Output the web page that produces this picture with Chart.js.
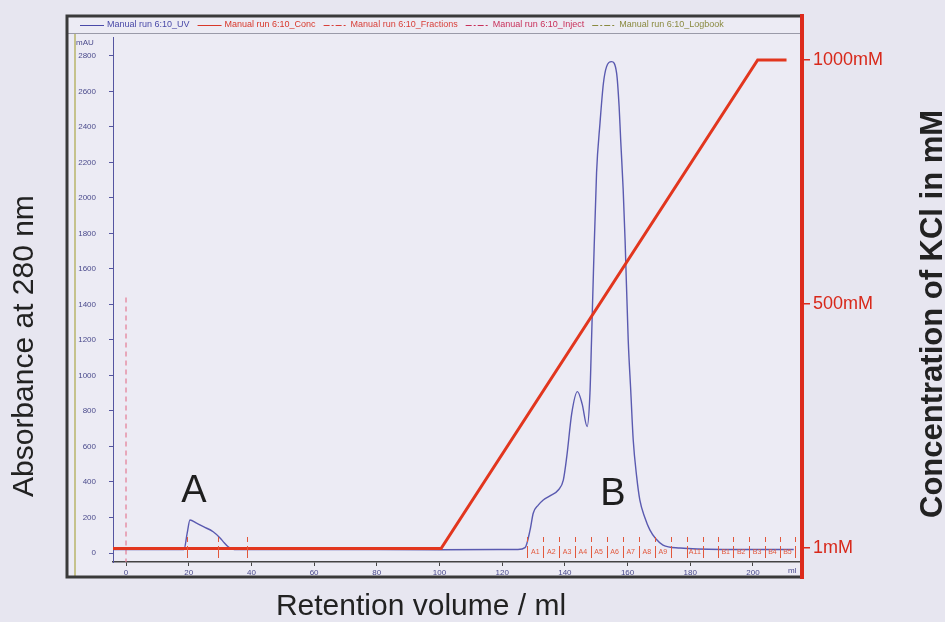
<!DOCTYPE html>
<html>
<head>
<meta charset="utf-8">
<script src="https://cdn.jsdelivr.net/npm/chart.js@4.4.0/dist/chart.umd.min.js"></script>
<style>
  html, body { margin: 0; padding: 0; background: #e7e6f0; }
  #wrap { width: 945px; height: 622px; position: relative; }
</style>
</head>
<body>
<div id="wrap"><canvas id="cromatograma"></canvas></div>
<script>
// Absorbância a 280 nm (mAU) por volume de retenção (ml)
const uvVolume = [-4.15, 18.5, 19.5, 20.4, 22.5, 24.7, 27.8, 30.0, 31.0, 32.6, 34.5, 60, 100, 125,
  127.3, 128.9, 129.9, 131.5, 133.1, 135.5, 137.9, 139.5, 140.6, 142.2, 144.0, 145.5, 147.1, 148.0,
  148.5, 149.1, 150.1, 151.2, 152.3, 153.3, 154.9, 156.5, 157.3, 157.8, 158.6, 159.2, 160.2, 161.0,
  161.8, 162.9, 163.9, 165.5, 167.1, 169, 171.3, 176.7, 190, 213];
const uvAbsorbancia = [20, 20, 110, 186, 168, 148, 120, 85, 64, 35, 20, 20, 18, 20,
  30, 130, 224, 270, 299, 325, 355, 411, 543, 788, 909, 840, 712, 901,
  1200, 1577, 2141, 2422, 2648, 2740, 2768, 2704, 2515, 2327, 2045, 1763, 1200, 918,
  637, 430, 299, 200, 130, 80, 45, 28, 20, 20];

// Gradiente de KCl (mM)
const kclVolume = [-4.15, 100.5, 201.5, 210.7];
const kclConcentracao = [0, 0, 1000, 1000];

// Marca de injeção
const injecaoVolume = [0, 0];
const injecaoAbsorbancia = [1440, -50];

// Frações coletadas
const fracoesLimites = [128, 133.1, 138.2, 143.2, 148.2, 153.3, 158.4, 163.6, 168.7, 173.8, 178.9, 184, 188.9, 193.7, 198.8, 203.8, 208.6, 213.4];
const fracoesNomes = ['A1', 'A2', 'A3', 'A4', 'A5', 'A6', 'A7', 'A8', 'A9', '', 'A11', '', 'B1', 'B2', 'B3', 'B4', 'B5'];
const fracoesPicoA = [19.5, 29.4, 38.5];

// Rótulos dos eixos
const ticksVolume = [0, 20, 40, 60, 80, 100, 120, 140, 160, 180, 200];
const ticksAbsorbancia = [0, 200, 400, 600, 800, 1000, 1200, 1400, 1600, 1800, 2000, 2200, 2400, 2600, 2800];
const ticksKcl = [1, 500, 1000];

const legendaItens = [
  { texto: 'Manual run 6:10_UV', cor: '#4a4aa8', traco: [] },
  { texto: 'Manual run 6:10_Conc', cor: '#d8382a', traco: [] },
  { texto: 'Manual run 6:10_Fractions', cor: '#d8403a', traco: [6, 2, 2, 2] },
  { texto: 'Manual run 6:10_Inject', cor: '#c8305a', traco: [6, 2, 2, 2] },
  { texto: 'Manual run 6:10_Logbook', cor: '#8a8a40', traco: [6, 2, 2, 2] }
];

const pares = (xs, ys) => xs.map((x, i) => ({ x: x, y: ys[i] }));

const fonte = '"Liberation Sans", Arial, sans-serif';

const molduraPlugin = {
  id: 'moldura',
  beforeDraw(chart) {
    const ctx = chart.ctx;
    ctx.save();
    ctx.fillStyle = '#e7e6f0';
    ctx.fillRect(0, 0, chart.width, chart.height);
    ctx.fillStyle = '#ecebf4';
    ctx.fillRect(68, 17, 733, 560);
    ctx.strokeStyle = '#b8b46a';
    ctx.lineWidth = 1.5;
    ctx.beginPath();
    ctx.moveTo(75, 34); ctx.lineTo(75, 577);
    ctx.stroke();
    ctx.strokeStyle = '#9a9aa8';
    ctx.lineWidth = 1;
    ctx.beginPath();
    ctx.moveTo(68, 33.5); ctx.lineTo(800, 33.5);
    ctx.stroke();
    ctx.restore();
  },
  afterDatasetsDraw(chart) {
    const ctx = chart.ctx;
    const x = chart.scales.x;
    const base = x.top;
    ctx.save();
    // frações
    ctx.strokeStyle = '#e2583c';
    ctx.lineWidth = 1;
    fracoesLimites.concat(fracoesPicoA).forEach(v => {
      const px = Math.round(x.getPixelForValue(v)) + 0.5;
      ctx.beginPath();
      ctx.moveTo(px, base - 25); ctx.lineTo(px, base - 20);
      ctx.moveTo(px, base - 16); ctx.lineTo(px, base - 4);
      ctx.stroke();
    });
    ctx.fillStyle = '#e2583c';
    ctx.font = '7px ' + fonte;
    ctx.textAlign = 'center';
    ctx.textBaseline = 'middle';
    fracoesNomes.forEach((nome, i) => {
      if (!nome) return;
      const px = (x.getPixelForValue(fracoesLimites[i]) + x.getPixelForValue(fracoesLimites[i + 1])) / 2;
      ctx.fillText(nome, px, base - 10);
    });
    ctx.restore();
  },
  afterDraw(chart) {
    const ctx = chart.ctx;
    const { x, y } = chart.scales;
    ctx.save();
    // moldura
    ctx.strokeStyle = '#3a3a3a';
    ctx.lineWidth = 3;
    ctx.strokeRect(67, 16, 735, 561);
    ctx.strokeStyle = '#dd2b1c';
    ctx.lineWidth = 4;
    ctx.beginPath();
    ctx.moveTo(802, 14); ctx.lineTo(802, 579);
    ctx.stroke();

    // legenda
    ctx.font = '9px ' + fonte;
    ctx.textBaseline = 'middle';
    ctx.textAlign = 'left';
    let lx = 80;
    legendaItens.forEach(item => {
      ctx.strokeStyle = item.cor;
      ctx.lineWidth = 1;
      ctx.setLineDash(item.traco);
      ctx.beginPath();
      ctx.moveTo(lx, 25.5); ctx.lineTo(lx + 24, 25.5);
      ctx.stroke();
      ctx.setLineDash([]);
      ctx.fillStyle = item.cor;
      ctx.fillText(item.texto, lx + 27, 25);
      lx += 27 + ctx.measureText(item.texto).width + 8;
    });

    // unidades dos eixos
    ctx.fillStyle = '#4b4b8c';
    ctx.font = '8px ' + fonte;
    ctx.fillText('mAU', 76, 43);
    ctx.fillText('ml', 788, 571);

    // picos
    ctx.fillStyle = '#1e1e1e';
    ctx.font = '38px ' + fonte;
    ctx.textAlign = 'center';
    ctx.textBaseline = 'alphabetic';
    ctx.fillText('A', x.getPixelForValue(21.7), y.getPixelForValue(287));
    ctx.fillText('B', x.getPixelForValue(155.3), y.getPixelForValue(270));

    // títulos
    ctx.fillStyle = '#222';
    ctx.font = '30px ' + fonte;
    ctx.fillText('Retention volume / ml', 421, 615);
    ctx.save();
    ctx.translate(33, 497);
    ctx.rotate(-Math.PI / 2);
    ctx.textAlign = 'left';
    ctx.fillText('Absorbance at 280 nm', 0, 0);
    ctx.restore();
    ctx.save();
    ctx.translate(942, 518);
    ctx.rotate(-Math.PI / 2);
    ctx.textAlign = 'left';
    ctx.font = 'bold 31px ' + fonte;
    ctx.fillText('Concentration of KCl in mM', 0, 0);
    ctx.restore();
    ctx.restore();
  }
};

new Chart(document.getElementById('cromatograma'), {
  type: 'line',
  data: {
    datasets: [
      {
        label: 'Manual run 6:10_Conc',
        data: pares(kclVolume, kclConcentracao),
        yAxisID: 'y2',
        borderColor: '#e2361e',
        borderWidth: 3,
        pointRadius: 0,
        tension: 0,
        order: 0
      },
      {
        label: 'Manual run 6:10_UV',
        data: pares(uvVolume, uvAbsorbancia),
        yAxisID: 'y',
        borderColor: '#5a5ab0',
        borderWidth: 1.4,
        pointRadius: 0,
        cubicInterpolationMode: 'monotone',
        order: 1
      },
      {
        label: 'Manual run 6:10_Inject',
        data: pares(injecaoVolume, injecaoAbsorbancia),
        yAxisID: 'y',
        borderColor: '#e47b93',
        borderWidth: 1.2,
        borderDash: [5, 4],
        pointRadius: 0,
        order: 2
      }
    ]
  },
  options: {
    responsive: true,
    maintainAspectRatio: false,
    animation: false,
    layout: { padding: { top: 37, left: 0, right: 0, bottom: 0 } },
    plugins: {
      legend: { display: false },
      tooltip: { enabled: false }
    },
    scales: {
      x: {
        type: 'linear',
        min: -4.15,
        max: 215,
        afterFit: s => { s.height = 60; },
        afterBuildTicks: s => { s.ticks = ticksVolume.map(v => ({ value: v })); },
        grid: { drawOnChartArea: false, drawTicks: true, tickLength: 4, color: '#444' },
        border: { display: true, color: '#444', width: 1.5 },
        ticks: { color: '#4b4b8c', font: { size: 8, family: fonte }, padding: 2, maxRotation: 0, callback: v => String(v) }
      },
      y: {
        position: 'left',
        min: -50.7,
        max: 2907,
        afterFit: s => { s.width = 113; },
        afterBuildTicks: s => { s.ticks = ticksAbsorbancia.map(v => ({ value: v })); },
        grid: { drawOnChartArea: false, drawTicks: true, tickLength: 4, color: '#5555a0' },
        border: { display: true, color: '#5555a0', width: 1 },
        ticks: { color: '#4b4b8c', font: { size: 8, family: fonte }, padding: 13, callback: v => String(v) }
      },
      y2: {
        position: 'right',
        min: -27.7,
        max: 1047,
        afterFit: s => { s.width = 145; },
        afterBuildTicks: s => { s.ticks = ticksKcl.map(v => ({ value: v })); },
        grid: { drawOnChartArea: false, drawTicks: true, tickLength: 10, color: '#dd2b1c', lineWidth: 1.5 },
        border: { display: false },
        ticks: {
          color: '#d8281a',
          font: { size: 18, family: fonte },
          padding: 3,
          callback: v => v + 'mM'
        }
      }
    }
  },
  plugins: [molduraPlugin]
});
</script>
</body>
</html>
